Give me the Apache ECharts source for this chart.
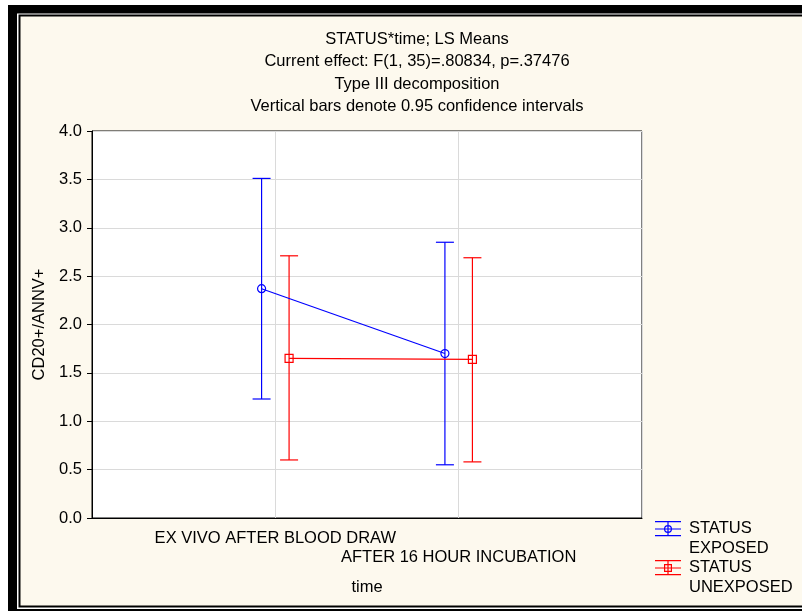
<!DOCTYPE html>
<html>
<head>
<meta charset="utf-8">
<script src="https://cdn.jsdelivr.net/npm/echarts@6/dist/echarts.min.js"></script>
<style>html,body{margin:0;padding:0;background:#fff}#c{width:802px;height:611px}</style>
</head>
<body>
<div id="c"></div>
<script>
// ---- data ----
const categories = ['EX VIVO AFTER BLOOD DRAW', 'AFTER 16 HOUR INCUBATION'];
const seriesNames = ['STATUS EXPOSED', 'STATUS UNEXPOSED'];
const exposedMean = [2.37, 1.70];
const exposedLow = [1.23, 0.55];
const exposedHigh = [3.51, 2.85];
const unexposedMean = [1.65, 1.64];
const unexposedLow = [0.60, 0.58];
const unexposedHigh = [2.71, 2.69];
const yMin = 0, yMax = 4, yStep = 0.5;
const titleLines = [
  'STATUS*time; LS Means',
  'Current effect: F(1, 35)=.80834, p=.37476',
  'Type III decomposition',
  'Vertical bars denote 0.95 confidence intervals'
];
const xName = 'time';
const yName = 'CD20+/ANNV+';

// ---- build ----
const FONT = 'Liberation Sans, Arial, sans-serif';
const FS = 16.5;
const BLUE = '#0000ff', RED = '#ff0000';
const dodge = 0.075;
const catPos = categories.map((c, i) => i + 1);

function pts(means, off) { return means.map((v, i) => [catPos[i] + off, v]); }
function bars(lo, hi, off) { return lo.map((v, i) => [catPos[i] + off, v, hi[i]]); }

function errRender(color) {
  return function (params, api) {
    const x = api.value(0);
    const pLo = api.coord([x, api.value(1)]);
    const pHi = api.coord([x, api.value(2)]);
    const hw = 9;
    const st = { stroke: color, lineWidth: 1.2, fill: null };
    return {
      type: 'group', children: [
        { type: 'line', shape: { x1: pLo[0], y1: pLo[1], x2: pHi[0], y2: pHi[1] }, style: st },
        { type: 'line', shape: { x1: pHi[0] - hw, y1: pHi[1], x2: pHi[0] + hw, y2: pHi[1] }, style: st },
        { type: 'line', shape: { x1: pLo[0] - hw, y1: pLo[1], x2: pLo[0] + hw, y2: pLo[1] }, style: st }
      ]
    };
  };
}

const glyphBase = 'M0,0 L0.01,0 Z M29,39 L28.99,39 Z ' +
  'M0,2 H26 V3.2 H0 Z M0,16 H26 V17.2 H0 Z M0,9.4 H26 V10.6 H0 Z M12.4,2 H13.6 V17 H12.4 Z ';
const circleIcon = 'path://' + glyphBase +
  'M17,10 A4,4 0 1 1 9,10 A4,4 0 1 1 17,10 Z M15.8,10 A2.8,2.8 0 1 0 10.2,10 A2.8,2.8 0 1 0 15.8,10 Z';
const squareIcon = 'path://' + glyphBase +
  'M9,6 H17 V14 H9 Z M10.2,7.2 V12.8 H15.8 V7.2 Z';

const chart = echarts.init(document.getElementById('c'), null, { renderer: 'canvas' });
chart.setOption({
  backgroundColor: '#ffffff',
  animation: false,
  textStyle: { fontFamily: FONT, color: '#000' },
  graphic: [
    { type: 'rect', z: -100, shape: { x: 8, y: 5, width: 830, height: 640 }, style: { fill: '#000' } },
    { type: 'rect', z: -99, shape: { x: 17, y: 13.5, width: 820, height: 595.5 }, style: { fill: '#fff' } },
    { type: 'rect', z: -98, shape: { x: 18.5, y: 14.5, width: 810, height: 593 }, style: { fill: '#000' } },
    { type: 'rect', z: -97, shape: { x: 20.5, y: 16.5, width: 800, height: 589 }, style: { fill: '#fdf9ee' } }
  ],
  title: {
    text: titleLines.join('\n'),
    left: 412, top: 23, textAlign: 'center',
    textStyle: { fontFamily: FONT, fontSize: FS, fontWeight: 'normal', color: '#000', lineHeight: 22.5 }
  },
  grid: { left: 92, right: 160, top: 131, bottom: 93, show: true, backgroundColor: '#ffffff', borderColor: '#000', borderWidth: 1 },
  xAxis: {
    type: 'value', min: 0, max: categories.length + 1, interval: 1,
    name: xName, nameLocation: 'middle', nameGap: 61,
    nameTextStyle: { fontFamily: FONT, fontSize: FS, color: '#000' },
    axisLine: { show: true, lineStyle: { color: '#000', width: 1 } },
    axisTick: { show: false },
    splitLine: { show: true, lineStyle: { color: '#dadada', width: 1 } },
    axisLabel: {
      margin: 11, fontFamily: FONT, fontSize: FS, color: '#000', lineHeight: 19,
      showMinLabel: true, showMaxLabel: true,
      formatter: function (v) {
        const i = Math.round(v) - 1;
        if (i < 0 || i >= categories.length) return '';
        return (i % 2 === 1 ? '\n' : '') + categories[i];
      }
    }
  },
  yAxis: {
    type: 'value', min: yMin, max: yMax, interval: yStep,
    name: yName, nameLocation: 'middle', nameGap: 44, nameRotate: 90,
    nameTextStyle: { fontFamily: FONT, fontSize: FS, color: '#000' },
    axisLine: { show: true, lineStyle: { color: '#000', width: 1 } },
    axisTick: { show: true, length: 5, lineStyle: { color: '#000' } },
    splitLine: { show: true, lineStyle: { color: '#dadada', width: 1 } },
    axisLabel: { margin: 10, fontFamily: FONT, fontSize: FS, color: '#000', formatter: v => v.toFixed(1) }
  },
  legend: {
    orient: 'vertical', left: 655, top: 519, padding: 0, itemGap: 0,
    itemWidth: 29, itemHeight: 39,
    textStyle: { fontFamily: FONT, fontSize: FS, color: '#000', lineHeight: 19.5 },
    formatter: name => name.replace(' ', '\n'),
    selectedMode: false,
    data: [
      { name: seriesNames[0], icon: circleIcon, itemStyle: { color: BLUE, borderWidth: 0 } },
      { name: seriesNames[1], icon: squareIcon, itemStyle: { color: RED, borderWidth: 0 } }
    ]
  },
  series: [
    { type: 'custom', name: 'err0', renderItem: errRender(BLUE), data: bars(exposedLow, exposedHigh, -dodge), z: 2 },
    { type: 'custom', name: 'err1', renderItem: errRender(RED), data: bars(unexposedLow, unexposedHigh, dodge), z: 2 },
    {
      type: 'line', name: seriesNames[0], data: pts(exposedMean, -dodge), z: 3,
      symbol: 'circle', symbolSize: 8, showAllSymbol: true,
      lineStyle: { color: BLUE, width: 1.2 },
      itemStyle: { color: 'rgba(0,0,0,0)', borderColor: BLUE, borderWidth: 1.2 }
    },
    {
      type: 'line', name: seriesNames[1], data: pts(unexposedMean, dodge), z: 3,
      symbol: 'rect', symbolSize: 8, showAllSymbol: true,
      lineStyle: { color: RED, width: 1.2 },
      itemStyle: { color: 'rgba(0,0,0,0)', borderColor: RED, borderWidth: 1.2 }
    }
  ]
});
</script>
</body>
</html>
